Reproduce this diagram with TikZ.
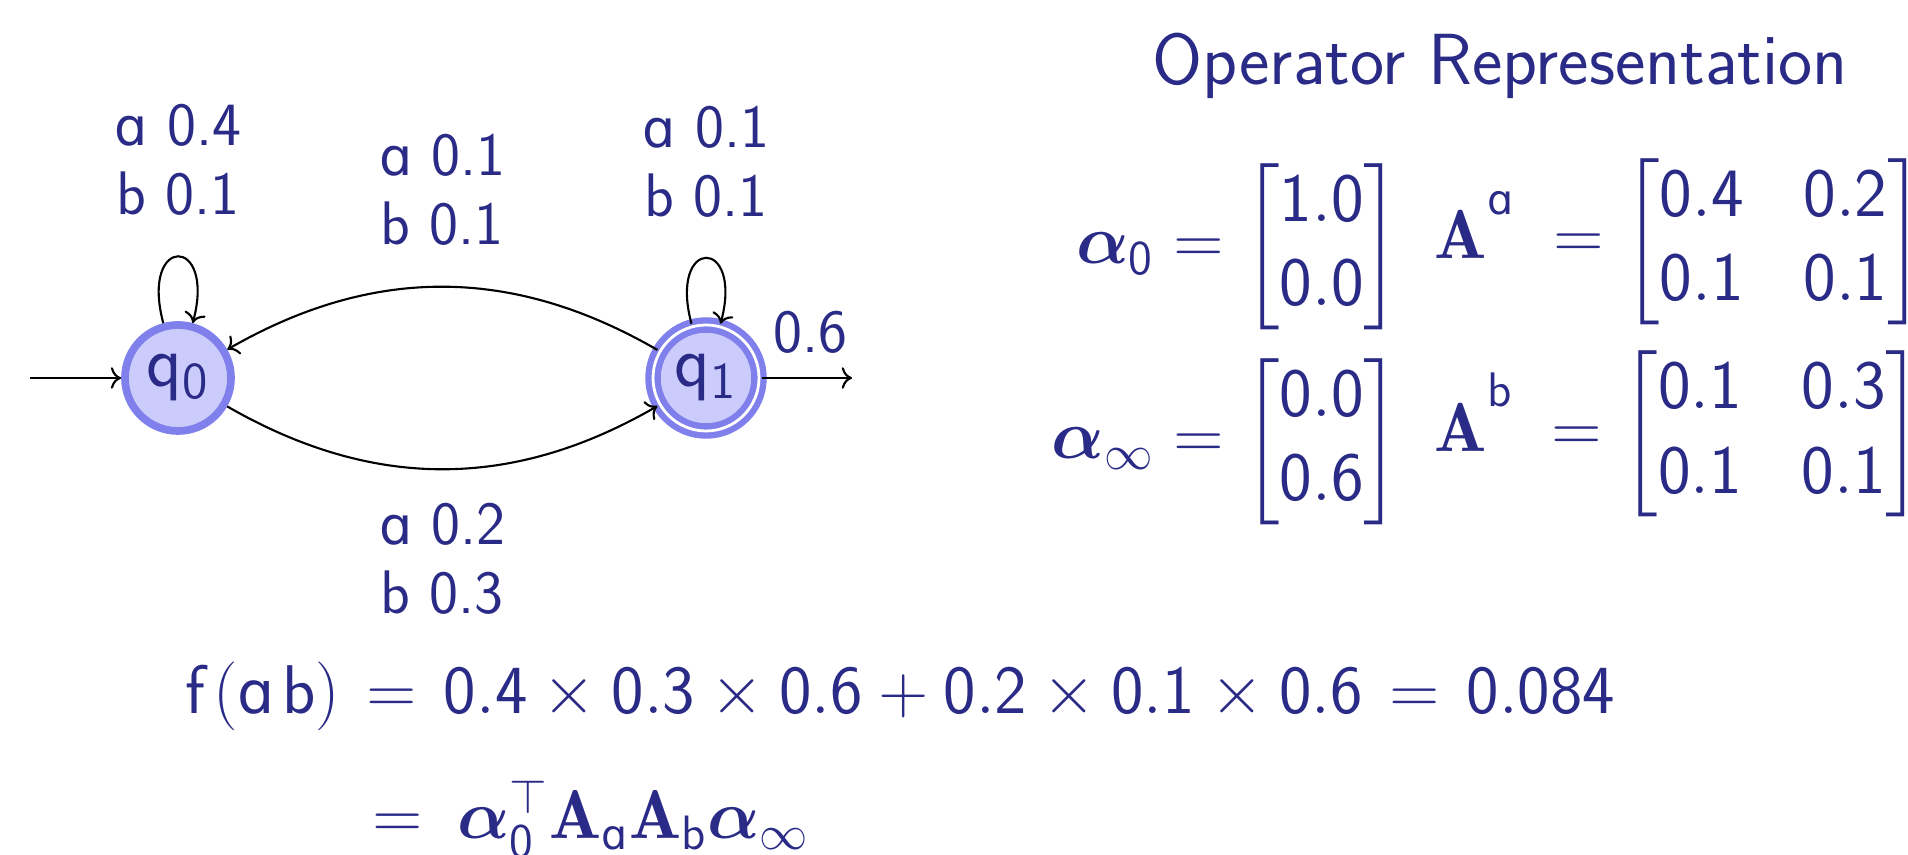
\RequirePackage{fix-cm}
\documentclass[tikz,border=0pt]{standalone}
\usepackage{amsmath, amssymb, bm}
\usepackage{fontspec}
\newfontfamily\alfont{DejaVu Sans}[Scale=0.85]
\usetikzlibrary{arrows.meta, positioning}
\definecolor{slideblue}{RGB}{42,42,135}
\definecolor{statefill}{RGB}{204,204,252}
\definecolor{stateline}{RGB}{128,128,236}
\newcommand{\sfa}{{\alfont ɑ}}
\newcommand{\supa}[1]{\raisebox{5.5pt}{$\scriptstyle\text{#1}$}}
\newcommand{\eq}{\mathrel{\textsf{=}}}
\newcommand{\pl}{\mathbin{\textsf{+}}}
\newcommand{\tightdelims}{\delimiterfactor=850 \delimitershortfall=8pt}
\tikzset{%
	qstate/.style = { circle, draw=stateline, fill=statefill, line width=2.2pt, minimum size=1.06cm, inner sep=0pt, text=slideblue, font=\sffamily\fontsize{21}{25}\selectfont },
	qfinal/.style = { qstate, double=white, double distance=0.8pt, line width=1.8pt },
	lab/.style = { text=slideblue, font=\sffamily\fontsize{17.5}{19.6}\selectfont, align=center, inner sep=0pt },
	mathbox/.style = { text=slideblue, font=\sffamily\fontsize{19.7}{24}\selectfont, inner sep=0pt },
	formula/.style = { text=slideblue, font=\sffamily\fontsize{19.6}{24}\selectfont, inner sep=0pt },
	edgeline/.style = { semithick, ->, black }
}

\begin{document}
\begin{tikzpicture}
	\fill[white] (0,0) rectangle (19.08,8.55);
	\useasboundingbox (0,0) rectangle (19.08,8.55);
	
	% 1. automaton
	\node[qstate] (q0) at (1.78,4.77) {$\mathsf{q}_{\mathsf{0}}$};
	\node[qfinal] (q1) at (7.06,4.77) {$\mathsf{q}_{\mathsf{1}}$};
	\coordinate (in) at (0.30,4.77);
	\coordinate (out) at (8.52,4.77);
	\draw[edgeline] (in) -- (q0);
	\draw[edgeline] (q1) -- (out) node[lab, pos=0.54, above=0.23cm] (stop) {0.6};
	\draw[edgeline] (q0) to[loop above] node[lab, above=0.40cm] (l00) {\sfa\ 0.4\\b 0.1} (q0);
	\draw[edgeline] (q1) to[loop above] node[lab, above=0.40cm] (l11) {\sfa\ 0.1\\b 0.1} (q1);
	\draw[edgeline] (q1) to[bend right=30] node[lab, above=0.40cm] (l10) {\sfa\ 0.1\\b 0.1} (q0);
	\draw[edgeline] (q0) to[bend right=30] node[lab, below=0.33cm] (l01) {\sfa\ 0.2\\b 0.3} (q1);
	
	% 2. operator representation
	\node[text=slideblue, font=\sffamily\fontsize{20.6}{24}\selectfont, anchor=base] (title) at (15.0,7.70) {Operator Representation};
	\node[mathbox, anchor=east] (alpha0) at (14.01,6.085) {$\tightdelims \bm{\alpha}_{\mathsf{0}} \eq \begin{bmatrix}\mathsf{1.0}\\ \mathsf{0.0}\end{bmatrix}$};
	\node[mathbox, anchor=east] (alphainf) at (14.01,4.135) {$\tightdelims \bm{\alpha}_{\infty} \eq \begin{bmatrix}\mathsf{0.0}\\ \mathsf{0.6}\end{bmatrix}$};
	\node[mathbox, anchor=west] (Aa) at (14.34,6.135) {$\tightdelims \arraycolsep=8.5pt \mathbf{A}^{\supa{\sfa}}\; \eq \begin{bmatrix}\mathsf{0.4} & \mathsf{0.2}\\ \mathsf{0.1} & \mathsf{0.1}\end{bmatrix}$};
	\node[mathbox, anchor=west] (Ab) at (14.34,4.21) {$\tightdelims \arraycolsep=8.5pt \mathbf{A}^{\supa{b}}\; \eq \begin{bmatrix}\mathsf{0.1} & \mathsf{0.3}\\ \mathsf{0.1} & \mathsf{0.1}\end{bmatrix}$};
	
	% 3. f(ab)
	\node[formula, anchor=base west] (fab) at (1.85,1.41) {$\thickmuskip=7mu \mathsf{f}\mkern2mu(\text{\sfa}\mkern2mu\mathsf{b}) \eq \mathsf{0.4}\times\mathsf{0.3}\times\mathsf{0.6}\pl\mathsf{0.2}\times\mathsf{0.1}\times\mathsf{0.6} \eq \mathsf{0.084}$};
	\node[formula, anchor=base west] (fop) at (3.72,0.16) {$\thickmuskip=9mu \eq \bm{\alpha}_{\mathsf{0}}^{\top}\mathbf{A}_{\text{\sfa}}\mathbf{A}_{\mathsf{b}}\bm{\alpha}_{\infty}$};
\end{tikzpicture}
\end{document}
